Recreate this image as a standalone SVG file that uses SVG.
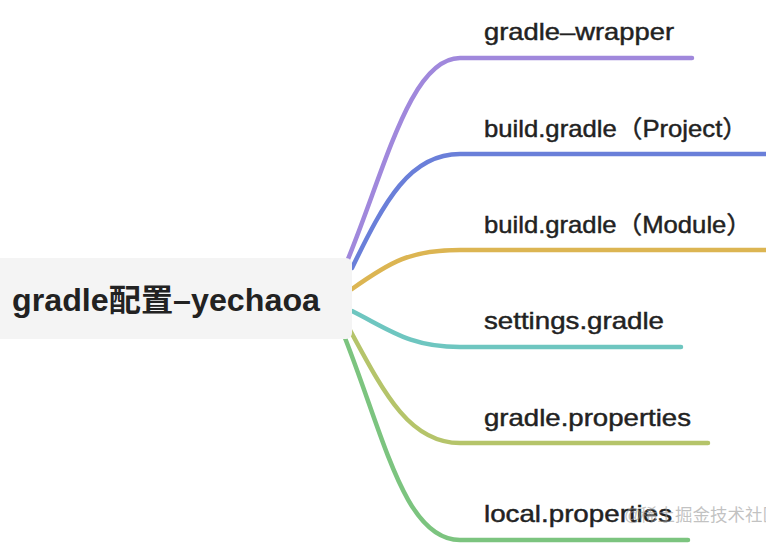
<svg xmlns="http://www.w3.org/2000/svg" width="766" height="554" viewBox="0 0 766 554">
<style>
.edge{fill:none;stroke-width:4.5;stroke-linecap:round}
.lbl{font-family:"Liberation Sans","Noto Sans CJK SC",sans-serif;font-size:24px;fill:#222;stroke:#222;stroke-width:0.45}
.root{font-family:"Liberation Sans","Noto Sans CJK SC",sans-serif;font-size:31px;font-weight:bold;fill:#222}
.wm{font-family:"Liberation Sans","Noto Sans CJK SC",sans-serif;font-size:17.5px;fill:#999;fill-opacity:0.6}
</style>
<rect width="766" height="554" fill="#ffffff"/>
<g id="connectors">
<path class="edge" stroke="#a088dc" d="M346 264 C385 170 410 58 460 58 L692 58"/>
<path class="edge" stroke="#6a7fd9" d="M352 268 C385 200 410 154 460 154 L770 154"/>
<path class="edge" stroke="#dcb552" d="M352 289 C390 262 410 250 460 250 L770 250"/>
<path class="edge" stroke="#6ec6c0" d="M352 311 C390 330 410 347 460 347 L681 347"/>
<path class="edge" stroke="#b5c46a" d="M350 330 C385 395 410 443 460 443 L708 443"/>
<path class="edge" stroke="#7cc47f" d="M345 338 C385 440 405 540 460 540 L688 540"/>
</g>
<g id="root">
<rect x="-10" y="258" width="362" height="81" rx="6" fill="#f4f4f4"/>
<text class="root" x="12" y="311" textLength="308" lengthAdjust="spacingAndGlyphs">gradle配置–yechaoa</text>
</g>
<g id="n1"><text class="lbl" x="484" y="40" textLength="190" lengthAdjust="spacingAndGlyphs">gradle–wrapper</text></g>
<g id="n2"><text class="lbl" x="484" y="137" textLength="264" lengthAdjust="spacingAndGlyphs">build.gradle（Project）</text></g>
<g id="n3"><text class="lbl" x="484" y="233" textLength="268" lengthAdjust="spacingAndGlyphs">build.gradle（Module）</text></g>
<g id="n4"><text class="lbl" x="484" y="329" textLength="180" lengthAdjust="spacingAndGlyphs">settings.gradle</text></g>
<g id="n5"><text class="lbl" x="484" y="426" textLength="207" lengthAdjust="spacingAndGlyphs">gradle.properties</text></g>
<g id="n6"><text class="lbl" x="484" y="522" textLength="188" lengthAdjust="spacingAndGlyphs">local.properties</text></g>
<text class="wm" x="624" y="521">@<tspan x="640">稀土掘金技术社区</tspan></text>
</svg>
